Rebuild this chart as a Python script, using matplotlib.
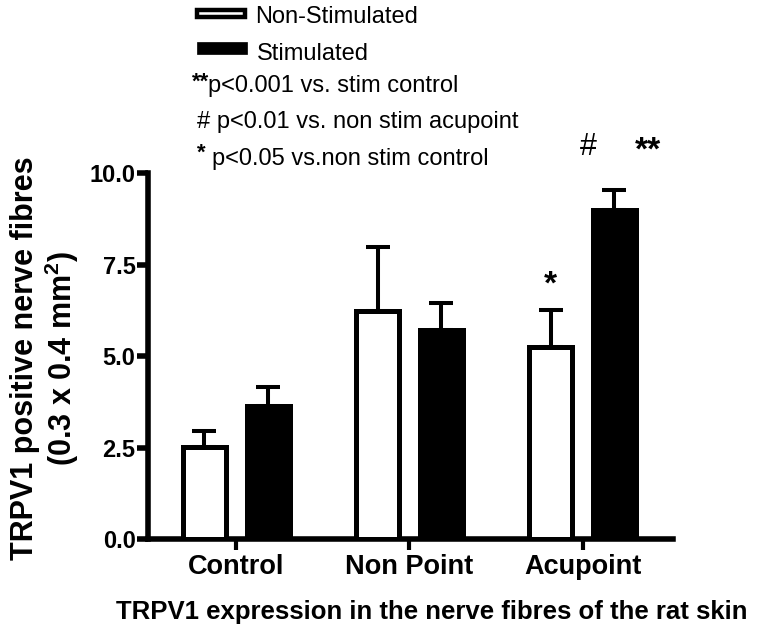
import matplotlib
matplotlib.use("Agg")
import matplotlib.pyplot as plt
import numpy as np
from matplotlib.patches import Rectangle

plt.rcParams['font.family'] = 'Liberation Sans'
plt.rcParams['mathtext.fontset'] = 'custom'
plt.rcParams['mathtext.rm'] = 'Liberation Sans:bold'
plt.rcParams['mathtext.bf'] = 'Liberation Sans:bold'

groups = ["Control", "Non Point", "Acupoint"]
non_stim = [2.51, 6.23, 5.25]
non_stim_err = [0.45, 1.76, 1.01]
stim = [3.65, 5.70, 9.00]
stim_err = [0.50, 0.76, 0.53]
yticks = [0.0, 2.5, 5.0, 7.5, 10.0]

fig = plt.figure(figsize=(7.67, 6.35), dpi=100)
ax = fig.add_axes([0.193, 0.151, 0.684, 0.5764])

x = np.arange(len(groups))
off = 0.184
w = 0.25
lw = 3.6

ax.bar(x - off, non_stim, w, color="white", edgecolor="black", linewidth=lw, zorder=3)
ax.bar(x + off, stim, w, color="black", edgecolor="black", linewidth=lw, zorder=3)
ax.errorbar(x - off, non_stim, yerr=[np.zeros(3), non_stim_err], fmt="none",
            ecolor="black", elinewidth=2.9, capsize=8.6, capthick=2.9, zorder=2)
ax.errorbar(x + off, stim, yerr=[np.zeros(3), stim_err], fmt="none",
            ecolor="black", elinewidth=2.9, capsize=8.6, capthick=2.9, zorder=2)

ax.set_xlim(-0.51, 2.52)
ax.set_ylim(0, 10)
ax.set_yticks(yticks)
ax.set_yticklabels([f"{v:.1f}" for v in yticks])
ax.set_xticks(x)
ax.set_xticklabels(groups)
for s in ["top", "right"]:
    ax.spines[s].set_visible(False)
for s in ["left", "bottom"]:
    ax.spines[s].set_linewidth(4)
ax.tick_params(axis="y", length=8, width=4, labelsize=17, pad=1)
ax.tick_params(axis="x", length=8, width=3, labelsize=19.5, pad=3)
for lab in ax.get_xticklabels() + ax.get_yticklabels():
    lab.set_fontweight("bold")

# axis titles
fig.text(432 / 767, 1 - 612 / 635, "TRPV1 expression in the nerve fibres of the rat skin",
         ha="center", va="center", fontsize=18.5, fontweight="bold")
fig.text(25 / 767, 1 - 358 / 635, "TRPV1 positive nerve fibres", rotation=90,
         ha="center", va="center", fontsize=22, fontweight="bold")
fig.text(62 / 767, 1 - 358 / 635, r"(0.3 x 0.4 mm$^{2}$)", rotation=90,
         ha="center", va="center", fontsize=22, fontweight="bold")

# significance markers
ax.text(2 - off, 6.95, "*", ha="center", va="center", fontsize=24, fontweight="bold", clip_on=False)
ax.text(2.035, 10.7, "#", ha="center", va="center", fontsize=22, clip_on=False)
ax.text(2.38, 10.6, "**", ha="center", va="center", fontsize=24, fontweight="bold", clip_on=False)

# legend
def px(xp, yp):
    return xp / 767, 1 - yp / 635

fig.patches.append(Rectangle(px(197, 16.5), 48 / 767, 6 / 635, transform=fig.transFigure,
                             facecolor="white", edgecolor="black", linewidth=3.2))
fig.patches.append(Rectangle(px(197, 54), 50 / 767, 12 / 635, transform=fig.transFigure,
                             facecolor="black", edgecolor="black", linewidth=0.5))
fig.text(*px(255, 23), "Non-Stimulated", fontsize=17, va="baseline")
fig.text(*px(257, 60), "Stimulated", fontsize=17, va="baseline")

fig.text(*px(192, 88), "**", fontsize=16, fontweight="bold", va="baseline")
fig.text(*px(208, 92), "p<0.001 vs. stim control", fontsize=17, va="baseline")
fig.text(*px(197, 128), "# p<0.01 vs. non stim acupoint", fontsize=17, va="baseline")
fig.text(*px(197, 159), "*", fontsize=16, fontweight="bold", va="baseline")
fig.text(*px(212, 165), "p<0.05 vs.non stim control", fontsize=17, va="baseline")

fig.savefig("out.png", dpi=100)
